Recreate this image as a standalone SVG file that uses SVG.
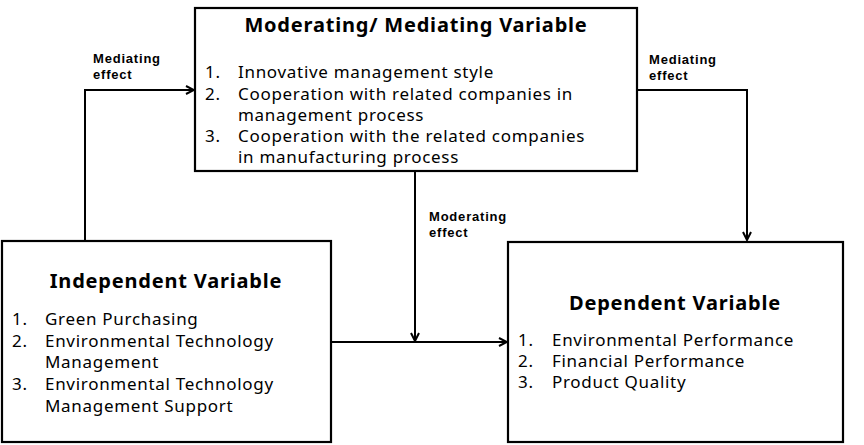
<svg xmlns="http://www.w3.org/2000/svg" width="864" height="445" viewBox="0 0 864 445">
<style>
.box{fill:#fff;stroke:#000;stroke-width:2.2}
.t{font-family:"Noto Sans","DejaVu Sans",sans-serif;font-weight:bold;font-size:20px;letter-spacing:0.8px;fill:#000}
.i{font-family:"Noto Sans","DejaVu Sans",sans-serif;font-size:17px;letter-spacing:0.7px;fill:#000}
.l{font-family:"Liberation Sans",Arial,sans-serif;font-weight:bold;font-size:13px;letter-spacing:0.8px;fill:#000}
.c{fill:none;stroke:#000;stroke-width:2}
</style>
<defs>
<marker id="arr" viewBox="0 0 10 10" refX="9" refY="5" markerWidth="10" markerHeight="10" markerUnits="userSpaceOnUse" orient="auto">
<path d="M1,1 L9,5 L1,9" fill="none" stroke="#000" stroke-width="2"/>
</marker>
</defs>
<g id="connectors">
<path class="c" d="M85,241 V90 H194" marker-end="url(#arr)"/>
<path class="c" d="M637,90 H747 V240" marker-end="url(#arr)"/>
<path class="c" d="M415,171 V341" marker-end="url(#arr)"/>
<path class="c" d="M331,342 H507" marker-end="url(#arr)"/>
<text class="l" x="93" y="63">Mediating</text>
<text class="l" x="93" y="79">effect</text>
<text class="l" x="649" y="64">Mediating</text>
<text class="l" x="649" y="80">effect</text>
<text class="l" x="429" y="221">Moderating</text>
<text class="l" x="429" y="237">effect</text>
</g>
<g id="moderating">
<rect class="box" x="195" y="8" width="442" height="163"/>
<text class="t" x="416" y="32" text-anchor="middle">Moderating/ Mediating Variable</text>
<text class="i" x="205" y="78">1.</text><text class="i" x="238" y="78">Innovative management style</text>
<text class="i" x="205" y="100">2.</text><text class="i" x="238" y="100">Cooperation with related companies in<tspan x="238" y="121">management process</tspan></text>
<text class="i" x="205" y="142">3.</text><text class="i" x="238" y="142">Cooperation with the related companies<tspan x="238" y="163">in manufacturing process</tspan></text>
</g>
<g id="independent">
<rect class="box" x="2" y="241" width="329" height="201"/>
<text class="t" x="166" y="288" text-anchor="middle">Independent Variable</text>
<text class="i" x="12" y="325">1.</text><text class="i" x="45" y="325">Green Purchasing</text>
<text class="i" x="12" y="347">2.</text><text class="i" x="45" y="347">Environmental Technology<tspan x="45" y="368">Management</tspan></text>
<text class="i" x="12" y="390">3.</text><text class="i" x="45" y="390">Environmental Technology<tspan x="45" y="412">Management Support</tspan></text>
</g>
<g id="dependent">
<rect class="box" x="508" y="242" width="335" height="200"/>
<text class="t" x="675" y="310" text-anchor="middle">Dependent Variable</text>
<text class="i" x="518" y="346">1.</text><text class="i" x="552" y="346">Environmental Performance</text>
<text class="i" x="518" y="367">2.</text><text class="i" x="552" y="367">Financial Performance</text>
<text class="i" x="518" y="388">3.</text><text class="i" x="552" y="388">Product Quality</text>
</g>
</svg>
